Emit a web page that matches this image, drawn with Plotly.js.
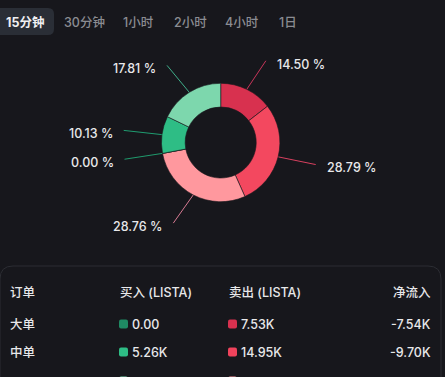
<!DOCTYPE html>
<html><head><meta charset="utf-8">
<script src="https://cdn.plot.ly/plotly-3.0.1.min.js"></script>
<style>html,body{margin:0;padding:0;background:#17171c;overflow:hidden}#c{width:445px;height:377px}</style>
</head><body><div id="c"></div>
<script>
// ---- data ----
const tabs = ["15分钟","30分钟","1小时","2小时","4小时","1日"];
const sliceLabels = ["卖出大单","卖出中单","卖出小单","买入大单","买入中单","买入小单"];
const slicePct = [14.50, 28.79, 28.76, 0.00, 10.13, 17.81];
const sliceColors = ["#d8314f","#f3485f","#ff989e","#1a8a60","#2ebd85","#7dd7ad"];
const lineColors = ["#c8355a","#d8405f","#d67a92","#1f9a6c","#1f9c70","#3fae8a"];
const tableHeader = ["订单","买入 (LISTA)","卖出 (LISTA)","净流入"];
const rowNames = ["大单","中单","小单"];
const buyVals = ["0.00","5.26K","9.25K"];
const sellVals = ["7.53K","14.95K","14.93K"];
const netVals = ["-7.54K","-9.70K","-5.68K"];
const buyColors = ["#1f8a63","#2ebd85","#7dd7ad"];
const sellColors = ["#d8314f","#f0435c","#ff989e"];

// ---- layout geometry ----
const W = 445, H = 377;
const cx = 220.7, cy = 142.5, R = 59.2, Rl = 94, Ry = 91, dxOut = 3.8;
const FONT = "Inter, 'Noto Sans CJK SC', sans-serif";
const TXT = "#e8e8ea";

const traces = [];
traces.push({
  type: "pie", values: slicePct, labels: sliceLabels, sort: false,
  direction: "clockwise", rotation: 0, hole: 0.6, textinfo: "none",
  hoverinfo: "label+percent",
  marker: {colors: sliceColors, line: {color: "#17171c", width: 0.6}},
  domain: {x: [(cx - R) / W, (cx + R) / W], y: [(H - cy - R) / H, (H - cy + R) / H]},
  showlegend: false
});

const annotations = [];
const shapes = [];
const total = slicePct.reduce((a, b) => a + b, 0);
let cum = 0;
slicePct.forEach((v, i) => {
  const mid = (cum + v / 2) / total * 2 * Math.PI;
  cum += v;
  const s = Math.sin(mid), c = Math.cos(mid);
  const right = s >= 0;
  const x0 = cx + R * s, y0 = cy - R * c;
  const x1 = cx + Rl * s + (right ? dxOut : -dxOut), y1 = cy - Ry * c;
  traces.push({type: "scatter", mode: "lines", x: [x0, x1], y: [y0, y1],
    line: {color: lineColors[i], width: 1}, hoverinfo: "skip", showlegend: false});
  annotations.push({x: right ? x1 + 9 : x1 - 9, y: y1 + 3.3, xref: "x", yref: "y",
    text: v.toFixed(2) + " %", showarrow: false, xanchor: right ? "left" : "right",
    yanchor: "middle", font: {family: FONT, size: 12.5, weight: 500, color: TXT}});
});

// tabs
const tabX = [4, 62, 121, 172, 223, 277];
shapes.push({type: "path", xref: "x", yref: "y",
  path: "M -6 8 L 48 8 Q 54 8 54 14 L 54 29 Q 54 35 48 35 L -6 35 Z",
  fillcolor: "#2a2e36", line: {width: 0}, layer: "below"});
tabs.forEach((t, i) => {
  annotations.push({x: tabX[i], y: 22, xref: "x", yref: "y", text: i === 0 ? "<b>" + t + "</b>" : t,
    showarrow: false, xanchor: "left", yanchor: "middle",
    font: {family: FONT, size: 12.5, weight: 500, color: i === 0 ? "#f0f0f2" : "#8b8c92"}});
});

// table box
shapes.push({type: "path", xref: "x", yref: "y",
  path: "M 0 279 Q 0 266 13 266 L 428 266 Q 441 266 441 279 L 441 390 L 0 390 Z",
  fillcolor: "#17171c", line: {color: "#2c2d33", width: 1}, layer: "below"});

const hY = 292, rowY = [324, 352, 381];
const colX = [8, 118, 227, 433];
const tf = {family: FONT, size: 12.5, weight: 500, color: TXT};
tableHeader.forEach((t, i) => {
  annotations.push({x: colX[i], y: hY, xref: "x", yref: "y", text: t, showarrow: false,
    xanchor: i === 3 ? "right" : "left", yanchor: "middle", font: tf});
});
rowNames.forEach((n, r) => {
  const y = rowY[r];
  annotations.push({x: colX[0], y: y, xref: "x", yref: "y", text: n, showarrow: false,
    xanchor: "left", yanchor: "middle", font: tf});
  [[colX[1], buyVals[r], buyColors[r]], [colX[2], sellVals[r], sellColors[r]]].forEach(([x, t, col]) => {
    const a = x + 1, b = x + 10, t0 = y - 4.5, t1 = y + 4.5;
    shapes.push({type: "path", xref: "x", yref: "y",
      path: `M ${a+2} ${t0} L ${b-2} ${t0} Q ${b} ${t0} ${b} ${t0+2} L ${b} ${t1-2} Q ${b} ${t1} ${b-2} ${t1} L ${a+2} ${t1} Q ${a} ${t1} ${a} ${t1-2} L ${a} ${t0+2} Q ${a} ${t0} ${a+2} ${t0} Z`,
      fillcolor: col, line: {width: 0}});
    annotations.push({x: x + 12, y: y, xref: "x", yref: "y", text: t, showarrow: false,
      xanchor: "left", yanchor: "middle", font: tf});
  });
  annotations.push({x: colX[3], y: y, xref: "x", yref: "y", text: netVals[r], showarrow: false,
    xanchor: "right", yanchor: "middle", font: tf});
});

const layout = {
  width: W, height: H, margin: {l: 0, r: 0, t: 0, b: 0},
  paper_bgcolor: "#17171c", plot_bgcolor: "rgba(0,0,0,0)",
  xaxis: {range: [0, W], visible: false, fixedrange: true},
  yaxis: {range: [H, 0], visible: false, fixedrange: true},
  shapes: shapes, annotations: annotations, showlegend: false,
  font: {family: FONT}
};
Plotly.newPlot("c", traces, layout, {displayModeBar: false, staticPlot: true});
</script></body></html>
